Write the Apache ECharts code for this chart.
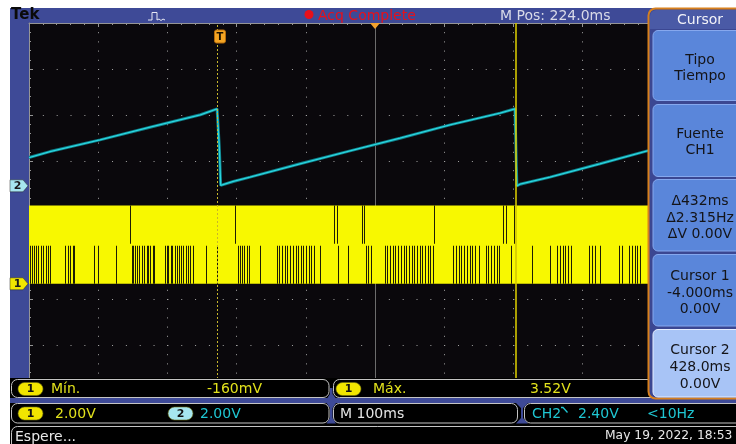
<!DOCTYPE html>
<html>
<head>
<meta charset="utf-8">
<title>CH1 / CH2 cursor capture</title>
<script src="https://cdn.jsdelivr.net/npm/echarts/dist/echarts.min.js"></script>
<style>
  html, body { margin: 0; padding: 0; background: #ffffff; }
  #scope { width: 736px; height: 444px; }
</style>
</head>
<body>
<div id="scope"></div>
<script>
// ---- Horizontal setup: 10 div x 100 ms, time measured from the trigger point
const timePerDivMs = 100;
const horizPosMs = 224;                                   // screen centre, relative to trigger
const screenStartMs = horizPosMs - 5 * timePerDivMs;      // left edge
const screenEndMs = horizPosMs + 5 * timePerDivMs;        // right edge

// ---- Vertical setup (volts/div, ground marker position in divisions above the bottom edge)
const ch1VoltsPerDiv = 2.0;
const ch1GroundDiv = 2.33;
const ch2VoltsPerDiv = 2.0;
const ch2GroundDiv = 4.46;

// ---- Time cursors
const cursor1Ms = -4;
const cursor2Ms = 428;

// ---- CH2: sawtooth (ms from trigger, volts)
const ch2TimeMs = [-276, -245.7, -173.4, -101, -28.4, -4.2, -1.5, -1.0, 0.5, 1.0,
                   19.2, 43.4, 115.6, 187.9, 260.1, 332.4, 404.6, 426.3, 427.8, 429.0,
                   433.5, 476.9, 549.1, 617.5, 622];
const ch2Volts  = [1.23, 1.49, 2.00, 2.55, 3.09, 3.35, 3.38, 1.70, 1.70, 0.02,
                   0.19, 0.38, 0.96, 1.52, 2.07, 2.65, 3.16, 3.35, 3.36, 0.00,
                   0.07, 0.38, 0.96, 1.52, 1.54];

// ---- CH1: fast digital signal shown as a peak-detect envelope
const ch1LowV = 0.0;
const ch1HighV = 3.40;
const ch1MidLowV = 1.66;
const ch1MidHighV = 1.74;
// columns where the envelope misses the low half
const ch1LowGapsMs = [
  -274.6, -271.2, -268.3, -265.9, -262.6, -258.7, -255.3, -251.9, -249.0, -245.7,
  -223.5, -219.6, -216.3, -212.8, -210.5,
  -181.6, -176.7, -149.8,
  -127.6, -125.7, -122.8, -119.5, -116.6, -113.1, -109.8, -105.9, -103.6, -100.7, -97.2, -94.9,
  -79.9, -77.0, -74.7, -71.2, -68.9, -65.0, -62.6, -59.2, -56.3, -53.5, -49.6, -46.2, -42.9, -39.4,
  -20.7, -4.8,
  26.5, 28.9, 32.2, 35.1, 38.6, 41.9,
  57.8, 81.9, 85.7, 89.6, 93.5, 97.3, 101.2, 105.9, 109.4, 113.2, 117.1, 120.4, 124.3, 128.2, 132.0, 136.3, 144.5,
  171.0, 184.5, 210.6, 214.3, 218.7,
  238.0, 241.8, 245.7, 249.6, 253.3, 257.2, 261.1, 265.5, 269.2, 273.1, 277.0, 280.8, 284.7, 288.6,
  292.4, 296.3, 300.2, 303.9, 307.8,
  337.2, 341.1, 345.0, 348.7, 352.6, 356.9, 360.8, 364.6, 368.5, 373.9,
  384.0, 387.7, 391.6, 395.5, 399.9, 403.6, 420.1,
  450.4, 477.3, 487.4, 491.3, 495.2, 499.0, 502.9, 506.8,
  533.7, 537.6, 541.5, 549.6, 577.0, 580.9, 591.5, 595.4, 599.3, 603.0, 606.9
];
// columns where the envelope misses the high half
const ch1HighGapsMs = [-129.6, 21.7, 165.2, 168.7, 205.2, 208.5, 308.8, 409.4, 412.9, 425.3];

// ---- Readout texts
const statusText = 'Acq Complete';
const ch1MinText = '-160mV';
const ch1MaxText = '3.52V';
const triggerText = '2.40V';
const triggerFreqText = '<10Hz';
const dateText = 'May 19, 2022, 18:53';
const waitText = 'Espere...';

// ---------------------------------------------------------------
const FONT = '"DejaVu Sans", "Noto Sans", sans-serif';
const frameBlue = '#3e4a97';
const traceYellow = '#f8f800';
const textYellow = '#e2e21c';
const textCyan = '#1fc6d2';

const chart = echarts.init(document.getElementById('scope'), null, { renderer: 'canvas' });

const dotColor = '#a4a4a4';
const edgeColor = '#959595';

function gapRenderer(color) {
  return function (params, api) {
    const top = api.coord([api.value(0), api.value(2)]);
    const bot = api.coord([api.value(0), api.value(1)]);
    return {
      type: 'rect',
      shape: { x: Math.round(top[0]), y: top[1], width: 1, height: bot[1] - top[1] },
      style: { fill: color }
    };
  };
}

const ch2Points = ch2TimeMs.map((t, i) => [t, ch2Volts[i]]);

const option = {
  animation: false,
  backgroundColor: 'transparent',
  grid: { left: 29, top: 23, width: 692, height: 368, show: false },
  xAxis: [
    { type: 'value', min: screenStartMs, max: screenEndMs, show: false },
    {
      type: 'value', min: 0, max: 10, interval: 1, position: 'top',
      axisLine: { show: true, onZero: false, lineStyle: { color: edgeColor, width: 1 } },
      axisTick: { show: true, inside: true, length: 4, lineStyle: { color: edgeColor } },
      minorTick: { show: true, splitNumber: 5, length: 2, lineStyle: { color: edgeColor } },
      axisLabel: { show: false },
      splitLine: { show: true, lineStyle: { color: dotColor, width: 1, type: [1, 8.2] } }
    }
  ],
  yAxis: [
    { type: 'value', min: -ch1GroundDiv * ch1VoltsPerDiv, max: (8 - ch1GroundDiv) * ch1VoltsPerDiv, show: false },
    { type: 'value', min: -ch2GroundDiv * ch2VoltsPerDiv, max: (8 - ch2GroundDiv) * ch2VoltsPerDiv, show: false },
    {
      type: 'value', min: 0, max: 8, interval: 1, position: 'left',
      axisLine: { show: true, onZero: false, lineStyle: { color: edgeColor, width: 1 } },
      axisTick: { show: true, inside: true, length: 4, lineStyle: { color: edgeColor } },
      minorTick: { show: true, splitNumber: 5, length: 2, lineStyle: { color: edgeColor } },
      axisLabel: { show: false },
      splitLine: { show: true, lineStyle: { color: dotColor, width: 1, type: [1, 12.84] } }
    }
  ],
  series: [
    {
      // centre graticule line, sits beneath the traces
      type: 'line', xAxisIndex: 0, yAxisIndex: 0, data: [], z: 1,
      markLine: {
        silent: true, z: 1, symbol: ['none', 'none'], label: { show: false }, animation: false,
        data: [{ xAxis: horizPosMs, lineStyle: { color: '#6c6c6c', width: 1, type: 'solid' } }]
      }
    },
    {
      name: 'CH1', type: 'custom', xAxisIndex: 0, yAxisIndex: 0, z: 2,
      data: [[screenStartMs, screenEndMs, ch1LowV, ch1HighV]],
      renderItem: function (params, api) {
        const a = api.coord([api.value(0), api.value(3)]);
        const b = api.coord([api.value(1), api.value(2)]);
        return {
          type: 'rect',
          shape: { x: a[0], y: a[1], width: b[0] - a[0], height: b[1] - a[1] },
          style: { fill: traceYellow }
        };
      }
    },
    {
      type: 'custom', xAxisIndex: 0, yAxisIndex: 0, z: 3,
      data: ch1LowGapsMs.map(t => [t, ch1LowV, ch1MidLowV]),
      renderItem: gapRenderer('#1e1e04')
    },
    {
      type: 'custom', xAxisIndex: 0, yAxisIndex: 0, z: 3,
      data: ch1HighGapsMs.map(t => [t, ch1MidHighV, ch1HighV]),
      renderItem: gapRenderer('#1e1e04')
    },
    {
      name: 'CH2 glow', type: 'line', xAxisIndex: 0, yAxisIndex: 1, z: 4,
      data: ch2Points, showSymbol: false, symbol: 'none',
      lineStyle: { color: '#0f7c86', width: 3 }
    },
    {
      name: 'CH2', type: 'line', xAxisIndex: 0, yAxisIndex: 1, z: 5,
      data: ch2Points, showSymbol: false, symbol: 'none',
      lineStyle: { color: '#2ad6e0', width: 1.3 }
    },
    {
      // time cursors
      type: 'line', xAxisIndex: 0, yAxisIndex: 0, data: [], z: 6,
      markLine: {
        silent: true, z: 6, symbol: ['none', 'none'], label: { show: false }, animation: false,
        data: [
          { xAxis: cursor1Ms, lineStyle: { color: '#c8b62a', width: 1, type: [2, 2] } },
          { xAxis: cursor2Ms, lineStyle: { color: '#d2c600', width: 1.6, type: 'solid' } }
        ]
      }
    }
  ]
};

chart.setOption(option);

// ---------------------------------------------------------------
// Instrument frame, markers and readouts
function text(x, y, str, color, size, align, weight, z) {
  return {
    type: 'text', x: x, y: y, z: z || 55,
    style: {
      text: str, fill: color,
      font: (weight || 'normal') + ' ' + (size || 14) + 'px ' + FONT,
      textAlign: align || 'left', textVerticalAlign: 'middle'
    }
  };
}
function rect(x, y, w, h, fill, z, extra) {
  return Object.assign({
    type: 'rect', z: z, shape: { x: x, y: y, width: w, height: h },
    style: { fill: fill }
  }, extra || {});
}
function badge(x, y, label, fill, z) {
  return [
    { type: 'rect', z: z, shape: { x: x, y: y - 6.5, width: 25, height: 13, r: 6.5 },
      style: { fill: fill, stroke: '#6b6b10', lineWidth: 0.6 } },
    text(x + 12.5, y + 0.5, label, '#111', 11, 'center', 'bold', z + 1)
  ];
}

const trigX = chart.convertToPixel({ xAxisIndex: 0 }, 0);
const centreX = chart.convertToPixel({ xAxisIndex: 0 }, horizPosMs);
const ch1Y = chart.convertToPixel({ yAxisIndex: 0 }, 0);
const ch2Y = chart.convertToPixel({ yAxisIndex: 1 }, 0);

const deltaMs = cursor2Ms - cursor1Ms;
const deltaHz = 1000 / deltaMs;

const g = [];
// frame and screen background
g.push(rect(10, 8, 726, 436, frameBlue, -20));
g.push(rect(29, 23, 707, 360, '#0a080c', -19));

// status bar
g.push(text(11, 15.5, 'Tek', '#0a0a0a', 15, 'left', 'bold'));
g.push({
  type: 'polyline', z: 55,
  shape: { points: [[148, 20], [152, 20], [152, 12.5], [157, 12.5], [157, 20], [159, 19], [161, 20.5], [163, 19], [165, 20]] },
  style: { stroke: '#e6e8f4', lineWidth: 1, fill: null }
});
g.push({ type: 'circle', z: 55, shape: { cx: 309, cy: 14.5, r: 4.5 }, style: { fill: '#e8101a' } });
g.push(text(318, 16, statusText, '#e8101a', 14));
g.push(text(500, 16, 'M Pos: ' + horizPosMs.toFixed(1) + 'ms', '#d8dae8', 14));

// trigger and expansion-point markers
g.push({
  type: 'polygon', z: 40,
  shape: { points: [[centreX - 5, 23], [centreX + 5, 23], [centreX, 29]] },
  style: { fill: '#f2a22e' }
});
g.push({
  type: 'rect', z: 40,
  shape: { x: trigX - 5.5, y: 30, width: 11, height: 13, r: 2 },
  style: { fill: '#f4a423', stroke: '#b36b0c', lineWidth: 1 }
});
g.push(text(trigX, 37, 'T', '#1a1000', 10, 'center', 'bold', 41));

// channel ground markers
function chanMarker(y, label, fill) {
  return [
    { type: 'polygon', z: 40,
      shape: { points: [[10, y - 6], [23, y - 6], [28, y], [23, y + 6], [10, y + 6]] },
      style: { fill: fill, stroke: '#2a2a2a', lineWidth: 0.5 } },
    text(17.5, y + 0.5, label, '#1a1a1a', 11, 'center', 'bold', 41)
  ];
}
g.push(...chanMarker(ch2Y, '2', '#a6e6ef'));
g.push(...chanMarker(ch1Y, '1', '#f1e500'));

// bottom readout rows
g.push(rect(10, 378, 640, 20, '#000000', 50));
g.push(rect(10, 398, 726, 5, frameBlue, 50));
g.push(rect(10, 403, 726, 41, '#000000', 50));
const boxStroke = { stroke: '#c4c4c4', lineWidth: 1 };
function box(x, y, w, h) {
  return { type: 'rect', z: 51, shape: { x: x, y: y, width: w, height: h, r: 6 },
           style: Object.assign({ fill: '#000000' }, boxStroke) };
}
g.push(box(11.5, 379.5, 317.5, 18));
g.push(box(333.5, 379.5, 330, 18));
g.push(box(11.5, 403.5, 317.5, 19.5));
g.push(box(333.5, 403.5, 184, 19.5));
g.push(box(524.5, 403.5, 220, 19.5));
g.push(box(11.5, 426.5, 740, 30));
// box joints
g.push({ type: 'polygon', z: 52,
  shape: { points: [[330, 388], [332.5, 388], [332.5, 394], [336, 398.5], [327, 398.5], [330, 394]] },
  style: { fill: frameBlue } });
g.push({ type: 'polygon', z: 52,
  shape: { points: [[326.5, 403], [336, 403], [332.5, 408], [332.5, 418], [336, 423.5], [326.5, 423.5], [330, 418], [330, 408]] },
  style: { fill: frameBlue } });
g.push({ type: 'polygon', z: 52,
  shape: { points: [[516, 403], [528, 403], [523, 408], [523, 418], [528, 423.5], [516, 423.5], [521, 418], [521, 408]] },
  style: { fill: frameBlue } });

// row 1: measurements
g.push(...badge(18, 389, '1', '#f1e500', 53));
g.push(text(51, 389.5, 'Mín.', textYellow, 14));
g.push(text(207, 389.5, ch1MinText, textYellow, 14));
g.push(...badge(336, 389, '1', '#f1e500', 53));
g.push(text(373, 389.5, 'Máx.', textYellow, 14));
g.push(text(530, 389.5, ch1MaxText, textYellow, 14));

// row 2: vertical / horizontal / trigger settings
g.push(...badge(18, 413.5, '1', '#f1e500', 53));
g.push(text(55, 414, ch1VoltsPerDiv.toFixed(2) + 'V', textYellow, 14));
g.push(...badge(168, 413.5, '2', '#a6e6ef', 53));
g.push(text(200, 414, ch2VoltsPerDiv.toFixed(2) + 'V', textCyan, 14));
g.push(text(340, 414, 'M ' + timePerDivMs + 'ms', '#e4e4e4', 14));
g.push(text(532, 414, 'CH2', textCyan, 14));
g.push({ type: 'polyline', z: 55,
  shape: { points: [[561, 407.5], [563, 407.5], [567.5, 412.5]] },
  style: { stroke: textCyan, lineWidth: 1.3, fill: null } });
g.push(text(578, 414, triggerText, textCyan, 14));
g.push(text(647, 414, triggerFreqText, textCyan, 14));

// row 3: status line
g.push(text(15, 437, waitText, '#e8e8e8', 14));
g.push(text(605, 436, dateText, '#e8e8e8', 12.3));

// side menu
g.push({ type: 'rect', z: 60, shape: { x: 648.5, y: 8.5, width: 92, height: 390, r: [7, 0, 0, 7] },
  style: { fill: '#3b4792', stroke: '#d7801d', lineWidth: 2 } });
g.push({ type: 'rect', z: 61, shape: { x: 650, y: 10, width: 90, height: 19, r: [6, 0, 0, 0] },
  style: { fill: '#4a5aa6' } });
g.push(text(700, 20.5, 'Cursor', '#f2f2f8', 14, 'center', 'normal', 62));

const menuButtons = [
  { y0: 30.5, y1: 100.5, lines: [['Tipo', 60], ['Tiempo', 76]] },
  { y0: 104.5, y1: 176.5, lines: [['Fuente', 134], ['CH1', 150]] },
  { y0: 179.5, y1: 251, lines: [['Δ' + deltaMs + 'ms', 201], ['Δ' + deltaHz.toFixed(3) + 'Hz', 218], ['ΔV 0.00V', 234]] },
  { y0: 254.5, y1: 326, lines: [['Cursor 1', 276], [cursor1Ms.toFixed(3) + 'ms', 293], ['0.00V', 309]] },
  { y0: 329.5, y1: 397, selected: true, lines: [['Cursor 2', 350], [cursor2Ms.toFixed(1) + 'ms', 367], ['0.00V', 384]] }
];
menuButtons.forEach(b => {
  g.push({ type: 'rect', z: 62,
    shape: { x: 653, y: b.y0, width: 90, height: b.y1 - b.y0, r: 5 },
    style: b.selected
      ? { fill: '#a8c4f6', stroke: '#e6eeff', lineWidth: 1 }
      : { fill: '#5a86da', stroke: '#86a8ee', lineWidth: 1 } });
  b.lines.forEach(l => g.push(text(700, l[1], l[0], '#141418', 14, 'center', 'normal', 63)));
});

chart.setOption({ graphic: { elements: g } });
</script>
</body>
</html>
